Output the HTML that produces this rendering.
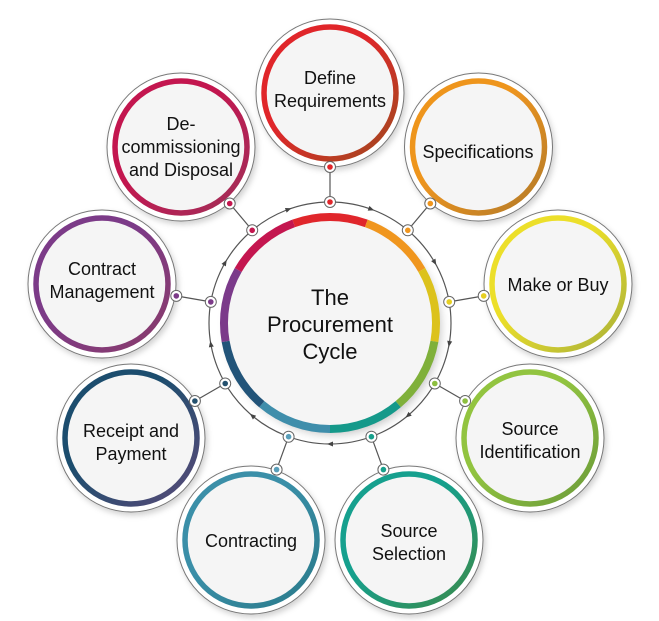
<!DOCTYPE html>
<html><head><meta charset="utf-8"><style>
html,body{margin:0;padding:0;background:#fff;width:659px;height:621px;overflow:hidden}
svg{display:block}
text{font-family:"Liberation Sans",Arial,sans-serif;fill:#111;text-anchor:middle}
</style></head><body>
<svg width="659" height="621" viewBox="0 0 659 621" xmlns="http://www.w3.org/2000/svg">
<defs>
<filter id="sh" x="-30%" y="-30%" width="160%" height="160%"><feDropShadow dx="4" dy="5" stdDeviation="5" flood-color="#000" flood-opacity="0.25"/></filter>
<filter id="sh2" x="-30%" y="-30%" width="160%" height="160%"><feDropShadow dx="2" dy="3" stdDeviation="3" flood-color="#000" flood-opacity="0.18"/></filter>
<linearGradient id="g1" x1="0" y1="0" x2="1" y2="1"><stop offset="0.4" stop-color="#e0262b"/><stop offset="1" stop-color="#a04a1e"/></linearGradient>
<linearGradient id="g2" x1="0" y1="0" x2="1" y2="1"><stop offset="0.4" stop-color="#ee951f"/><stop offset="1" stop-color="#b27a2a"/></linearGradient>
<linearGradient id="g3" x1="0" y1="0" x2="1" y2="1"><stop offset="0.4" stop-color="#ecdf2a"/><stop offset="1" stop-color="#a8b03a"/></linearGradient>
<linearGradient id="g4" x1="0" y1="0" x2="1" y2="1"><stop offset="0.4" stop-color="#92c441"/><stop offset="1" stop-color="#6a9a38"/></linearGradient>
<linearGradient id="g5" x1="0" y1="0" x2="1" y2="1"><stop offset="0.4" stop-color="#16a08e"/><stop offset="1" stop-color="#3a8a4a"/></linearGradient>
<linearGradient id="g6" x1="0" y1="0" x2="1" y2="1"><stop offset="0.4" stop-color="#3a8fa8"/><stop offset="1" stop-color="#2a7a8a"/></linearGradient>
<linearGradient id="g7" x1="0" y1="0" x2="1" y2="1"><stop offset="0.4" stop-color="#1f4e6e"/><stop offset="1" stop-color="#5a4a78"/></linearGradient>
<linearGradient id="g8" x1="0" y1="0" x2="1" y2="1"><stop offset="0.4" stop-color="#7c3a88"/><stop offset="1" stop-color="#8a3a6a"/></linearGradient>
<linearGradient id="g9" x1="0" y1="0" x2="1" y2="1"><stop offset="0.4" stop-color="#c3174f"/><stop offset="1" stop-color="#a0305a"/></linearGradient>
</defs>
<circle cx="330" cy="323" r="121" fill="none" stroke="#555" stroke-width="1.2"/>
<g fill="#444">
<polygon points="-3,-2.5 3,0 -3,2.5" transform="translate(288.6,209.3) rotate(-20)"/>
<polygon points="-3,-2.5 3,0 -3,2.5" transform="translate(371.4,209.3) rotate(20)"/>
<polygon points="-3,-2.5 3,0 -3,2.5" transform="translate(434.8,262.5) rotate(60)"/>
<polygon points="-3,-2.5 3,0 -3,2.5" transform="translate(449.2,344) rotate(100)"/>
<polygon points="-3,-2.5 3,0 -3,2.5" transform="translate(407.8,415.7) rotate(140)"/>
<polygon points="-3,-2.5 3,0 -3,2.5" transform="translate(330,444) rotate(180)"/>
<polygon points="-3,-2.5 3,0 -3,2.5" transform="translate(252.2,415.7) rotate(220)"/>
<polygon points="-3,-2.5 3,0 -3,2.5" transform="translate(210.8,344) rotate(260)"/>
<polygon points="-3,-2.5 3,0 -3,2.5" transform="translate(225.2,262.5) rotate(300)"/>
</g>
<g stroke="#555" stroke-width="1.2">
<line x1="330" y1="202" x2="330" y2="167"/>
<line x1="407.8" y1="230.3" x2="430.3" y2="203.5"/>
<line x1="449.2" y1="301.9" x2="483.7" y2="295.9"/>
<line x1="434.8" y1="383.5" x2="465.1" y2="401"/>
<line x1="371.4" y1="436.7" x2="383.4" y2="469.6"/>
<line x1="288.6" y1="436.7" x2="276.6" y2="469.6"/>
<line x1="225.2" y1="383.5" x2="194.9" y2="401"/>
<line x1="210.8" y1="301.9" x2="176.3" y2="295.9"/>
<line x1="252.2" y1="230.3" x2="229.7" y2="203.5"/>
</g>
<g>
<g filter="url(#sh2)"><circle cx="330" cy="93" r="74" fill="#fff" stroke="#777" stroke-width="1"/><circle cx="330" cy="93" r="66" fill="#f5f5f5" stroke="url(#g1)" stroke-width="5.5"/></g>
<g filter="url(#sh2)"><circle cx="478.5" cy="147" r="74" fill="#fff" stroke="#777" stroke-width="1"/><circle cx="478.5" cy="147" r="66" fill="#f5f5f5" stroke="url(#g2)" stroke-width="5.5"/></g>
<g filter="url(#sh2)"><circle cx="558" cy="284" r="74" fill="#fff" stroke="#777" stroke-width="1"/><circle cx="558" cy="284" r="66" fill="#f5f5f5" stroke="url(#g3)" stroke-width="5.5"/></g>
<g filter="url(#sh2)"><circle cx="530" cy="438" r="74" fill="#fff" stroke="#777" stroke-width="1"/><circle cx="530" cy="438" r="66" fill="#f5f5f5" stroke="url(#g4)" stroke-width="5.5"/></g>
<g filter="url(#sh2)"><circle cx="409" cy="540" r="74" fill="#fff" stroke="#777" stroke-width="1"/><circle cx="409" cy="540" r="66" fill="#f5f5f5" stroke="url(#g5)" stroke-width="5.5"/></g>
<g filter="url(#sh2)"><circle cx="251" cy="540" r="74" fill="#fff" stroke="#777" stroke-width="1"/><circle cx="251" cy="540" r="66" fill="#f5f5f5" stroke="url(#g6)" stroke-width="5.5"/></g>
<g filter="url(#sh2)"><circle cx="131" cy="438" r="74" fill="#fff" stroke="#777" stroke-width="1"/><circle cx="131" cy="438" r="66" fill="#f5f5f5" stroke="url(#g7)" stroke-width="5.5"/></g>
<g filter="url(#sh2)"><circle cx="102" cy="284" r="74" fill="#fff" stroke="#777" stroke-width="1"/><circle cx="102" cy="284" r="66" fill="#f5f5f5" stroke="url(#g8)" stroke-width="5.5"/></g>
<g filter="url(#sh2)"><circle cx="181" cy="147" r="74" fill="#fff" stroke="#777" stroke-width="1"/><circle cx="181" cy="147" r="66" fill="#f5f5f5" stroke="url(#g9)" stroke-width="5.5"/></g>
</g>
<circle cx="330" cy="323" r="106" fill="#f5f5f5" filter="url(#sh)"/>
<g fill="none" stroke-width="8">
<path d="M293.7,223.4 A106,106 0 0 1 366.3,223.4" stroke="#e0262b"/>
<path d="M366.3,223.4 A106,106 0 0 1 421.8,270" stroke="#f0961e"/>
<path d="M421.8,270 A106,106 0 0 1 434.4,341.4" stroke="#dcc21c"/>
<path d="M434.4,341.4 A106,106 0 0 1 398.2,404.2" stroke="#7fb03a"/>
<path d="M398.2,404.2 A106,106 0 0 1 330,429" stroke="#15998a"/>
<path d="M330,429 A106,106 0 0 1 261.8,404.2" stroke="#3f8eab"/>
<path d="M261.8,404.2 A106,106 0 0 1 225.6,341.4" stroke="#225479"/>
<path d="M225.6,341.4 A106,106 0 0 1 238.2,270" stroke="#7b3a8a"/>
<path d="M238.2,270 A106,106 0 0 1 293.7,223.4" stroke="#c4164f"/>
</g>
<g stroke="#666" stroke-width="1" fill="#fff">
<circle cx="330" cy="202" r="5.5"/><circle cx="407.8" cy="230.3" r="5.5"/><circle cx="449.2" cy="301.9" r="5.5"/><circle cx="434.8" cy="383.5" r="5.5"/><circle cx="371.4" cy="436.7" r="5.5"/><circle cx="288.6" cy="436.7" r="5.5"/><circle cx="225.2" cy="383.5" r="5.5"/><circle cx="210.8" cy="301.9" r="5.5"/><circle cx="252.2" cy="230.3" r="5.5"/>
<circle cx="330" cy="167" r="5.5"/><circle cx="430.3" cy="203.5" r="5.5"/><circle cx="483.7" cy="295.9" r="5.5"/><circle cx="465.1" cy="401" r="5.5"/><circle cx="383.4" cy="469.6" r="5.5"/><circle cx="276.6" cy="469.6" r="5.5"/><circle cx="194.9" cy="401" r="5.5"/><circle cx="176.3" cy="295.9" r="5.5"/><circle cx="229.7" cy="203.5" r="5.5"/>
</g>
<g>
<circle cx="330" cy="202" r="2.8" fill="#e0262b"/><circle cx="330" cy="167" r="2.8" fill="#e0262b"/>
<circle cx="407.8" cy="230.3" r="2.8" fill="#f0961e"/><circle cx="430.3" cy="203.5" r="2.8" fill="#f0961e"/>
<circle cx="449.2" cy="301.9" r="2.8" fill="#e6cf22"/><circle cx="483.7" cy="295.9" r="2.8" fill="#e6cf22"/>
<circle cx="434.8" cy="383.5" r="2.8" fill="#8dbf3f"/><circle cx="465.1" cy="401" r="2.8" fill="#8dbf3f"/>
<circle cx="371.4" cy="436.7" r="2.8" fill="#17a08c"/><circle cx="383.4" cy="469.6" r="2.8" fill="#17a08c"/>
<circle cx="288.6" cy="436.7" r="2.8" fill="#5a9fba"/><circle cx="276.6" cy="469.6" r="2.8" fill="#5a9fba"/>
<circle cx="225.2" cy="383.5" r="2.8" fill="#24506e"/><circle cx="194.9" cy="401" r="2.8" fill="#24506e"/>
<circle cx="210.8" cy="301.9" r="2.8" fill="#7c3a88"/><circle cx="176.3" cy="295.9" r="2.8" fill="#7c3a88"/>
<circle cx="252.2" cy="230.3" r="2.8" fill="#c3174f"/><circle cx="229.7" cy="203.5" r="2.8" fill="#c3174f"/>
</g>
<g font-size="18">
<text x="330" y="84">Define</text><text x="330" y="107">Requirements</text>
<text x="478" y="158">Specifications</text>
<text x="558" y="291">Make or Buy</text>
<text x="530" y="435">Source</text><text x="530" y="458">Identification</text>
<text x="409" y="537">Source</text><text x="409" y="560">Selection</text>
<text x="251" y="547">Contracting</text>
<text x="131" y="437">Receipt and</text><text x="131" y="460">Payment</text>
<text x="102" y="275">Contract</text><text x="102" y="298">Management</text>
<text x="181" y="130">De-</text><text x="181" y="153">commissioning</text><text x="181" y="176">and Disposal</text>
</g>
<g font-size="22">
<text x="330" y="305">The</text><text x="330" y="332">Procurement</text><text x="330" y="359">Cycle</text>
</g>
</svg>
</body></html>
